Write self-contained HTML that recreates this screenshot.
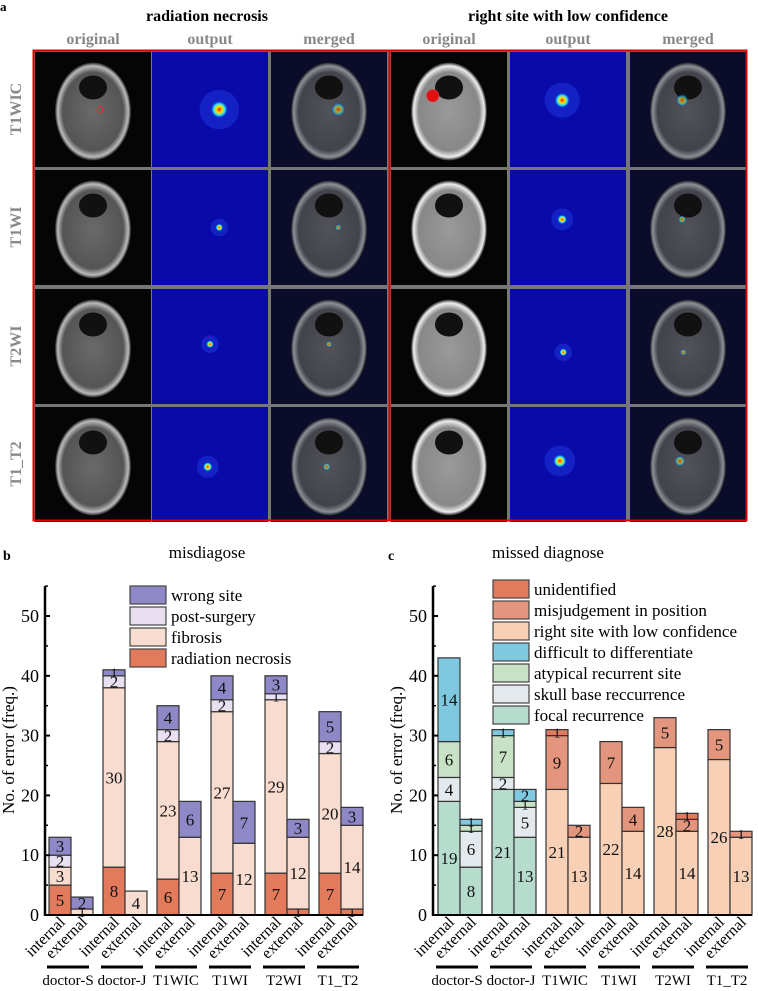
<!DOCTYPE html>
<html><head><meta charset="utf-8"><style>
html,body{margin:0;padding:0;background:#fff;}
body{width:758px;height:991px;position:relative;overflow:hidden;font-family:"Liberation Serif",serif;}
svg{position:absolute;left:0;top:0;font-family:"Liberation Serif",serif;}
</style></head><body>
<svg id="fig" width="758" height="991" viewBox="0 0 758 991" xmlns="http://www.w3.org/2000/svg">
<defs>
<radialGradient id="hot" cx="50%" cy="50%" r="50%"><stop offset="0" stop-color="#ff2000"/><stop offset="0.35" stop-color="#ffe000"/><stop offset="0.65" stop-color="#20e0ff"/><stop offset="1" stop-color="#0010c0" stop-opacity="0"/></radialGradient>
<radialGradient id="brain" cx="50%" cy="50%" r="50%"><stop offset="0" stop-color="#6a6a6a"/><stop offset="0.8" stop-color="#555"/><stop offset="0.93" stop-color="#bbb"/><stop offset="1" stop-color="#222"/></radialGradient>
<radialGradient id="brainB" cx="50%" cy="50%" r="50%"><stop offset="0" stop-color="#9a9a9a"/><stop offset="0.8" stop-color="#888"/><stop offset="0.93" stop-color="#eee"/><stop offset="1" stop-color="#222"/></radialGradient>
</defs>
<g id="panelA"></g>
<g id="chartB"></g>
<g id="chartC"></g>
</svg>
<script>
// ---- chart data ----
const groups = ["doctor-S","doctor-J","T1WIC","T1WI","T2WI","T1_T2"];
const subLabels = ["internal","external"];
const yTicks = [0,10,20,30,40,50];
// chart b series (bottom to top), order: doctor-S int, ext, doctor-J int, ext, ...
const bSeriesNames = ["radiation necrosis","fibrosis","post-surgery","wrong site"];
const bRadiation = [5,0,8,0,6,0,7,0,7,1,7,1];
const bFibrosis  = [3,1,30,4,23,13,27,12,29,12,20,14];
const bPostSurg  = [2,0,2,0,2,0,2,0,1,0,2,0];
const bWrongSite = [3,2,1,0,4,6,4,7,3,3,5,3];
const bColors = ["#e47a5c","#f8dccf","#e8dff0","#8f88c6"];
// chart c series
const cSeriesNames = ["focal recurrence","skull base reccurrence","atypical recurrent site","difficult to differentiate","right site with low confidence","misjudgement in position","unidentified"];
const cFocal     = [19,8,21,13,0,0,0,0,0,0,0,0];
const cSkull     = [4,6,2,5,0,0,0,0,0,0,0,0];
const cAtypical  = [6,1,7,1,0,0,0,0,0,0,0,0];
const cDifficult = [14,1,1,2,0,0,0,0,0,0,0,0];
const cRightSite = [0,0,0,0,21,13,22,14,28,14,26,13];
const cMisjudge  = [0,0,0,0,9,2,7,4,5,2,5,1];
const cUnident   = [0,0,0,0,1,0,0,0,0,1,0,0];
const cColors = ["#b6dccd","#e4e9ed","#c8e2c6","#7ec8e0","#f7d0b6","#e4957d","#e47a5c"];

const NS="http://www.w3.org/2000/svg";
function mk(tag,attrs,parent){const e=document.createElementNS(NS,tag);for(const k in attrs)e.setAttribute(k,attrs[k]);parent.appendChild(e);return e;}
function txt(s,attrs,parent){const e=mk("text",attrs,parent);e.textContent=s;return e;}

// ---- panel a ----
const A=document.getElementById("panelA");
txt("a",{x:0,y:11,"font-size":13,"font-weight":"bold"},A);
txt("radiation necrosis",{x:207,y:21,"font-size":16,"font-weight":"bold","text-anchor":"middle"},A);
txt("right site with low confidence",{x:568,y:21,"font-size":16,"font-weight":"bold","text-anchor":"middle"},A);
const colX=[[35,152,271],[391,510,630]], rowY=[52,170,289,407];
const hdr=["original","output","merged"];
const rows=["T1WIC","T1WI","T2WI","T1_T2"];
const hotL=[[0.58,0.5,9],[0.58,0.5,4],[0.5,0.48,4],[0.48,0.52,5]];
const hotR=[[0.45,0.42,8],[0.45,0.43,5],[0.46,0.55,4],[0.43,0.47,7]];
for(let p=0;p<2;p++){
  for(let c=0;c<3;c++){
    const h=txt(hdr[c],{x:colX[p][c]+58,y:44,"font-size":16,"font-weight":"bold",fill:"#888","text-anchor":"middle"},A);
    
    
  }
  mk("rect",{x:colX[p][0]-2,y:50,width:358,height:471,fill:"#777"},A);
  for(let r=0;r<4;r++){
    for(let c=0;c<3;c++){
      const x=colX[p][c],y=rowY[r],w=116,hh=115;
      const g=mk("g",{},A);
      
      
      if(c===1){
        mk("rect",{x,y,width:w,height:hh,fill:"#0a0aa8"},g);
        const hs=p?hotR[r]:hotL[r];
        mk("circle",{cx:x+w*hs[0],cy:y+hh*hs[1],r:hs[2]*2.2,fill:"#1a30d8",opacity:0.6},g);
        mk("circle",{cx:x+w*hs[0],cy:y+hh*hs[1],r:hs[2],fill:"url(#hot)"},g);
      } else {
        mk("rect",{x,y,width:w,height:hh,fill:c===2?"#0b0b2a":"#050505"},g);
        mk("ellipse",{cx:x+w/2,cy:y+hh/2+2,rx:38,ry:49,fill:(p&&c===0)?"url(#brainB)":"url(#brain)",opacity:c===2?0.75:1},g);
        mk("ellipse",{cx:x+w/2,cy:y+hh/2-22,rx:14,ry:12,fill:"#111"},g);
        if(c===2){const hs=p?hotR[r]:hotL[r];mk("circle",{cx:x+w*hs[0],cy:y+hh*hs[1],r:hs[2]*0.8,fill:"url(#hot)",opacity:0.6},g);}
        if(c===0&&r===0) mk("circle",{cx:x+w*(p?0.36:0.56),cy:y+hh*(p?0.38:0.5),r:p?6:3,fill:p?"#e01010":"none",stroke:"#e03030","stroke-width":1},g);
      }
    }
  }
  mk("rect",{x:colX[p][0]-1.5,y:50.5,width:357,height:470,fill:"none",stroke:"#e00000","stroke-width":2},A);
}
for(let r=0;r<4;r++){
  const t=txt(rows[r],{x:0,y:0,"font-size":16,"font-weight":"bold",fill:"#888","text-anchor":"middle",transform:`translate(21,${rowY[r]+57}) rotate(-90)`},A);
  
  
}

// ---- stacked bar charts ----
function chart(root,opt){
  const G=document.getElementById(root);
  const y0=915, k=5.98;
  const ys=v=>y0-v*k;
  const xs=i=>opt.x0+Math.floor(i/2)*opt.gs+(i%2)*opt.bw;
  txt(opt.letter,{x:opt.lx,y:560,"font-size":14,"font-weight":"bold"},G);
  txt(opt.title,{x:opt.tx,y:558,"font-size":17,"text-anchor":"middle"},G);
  opt.series.forEach((arr,s)=>{
    arr.forEach((v,i)=>{
      if(!v)return;
      let base=0;for(let q=0;q<s;q++)base+=opt.series[q][i];
      const r=mk("rect",{x:xs(i),y:ys(base+v),width:opt.bw,height:v*k,fill:opt.colors[s],stroke:"#333","stroke-width":1.2},G);
      
      
      const fs=v>=2?17:14;
      const l=txt(String(v),{x:xs(i)+opt.bw/2,y:ys(base+v/2)+fs*0.35,"font-size":fs,"text-anchor":"middle",fill:"#111"},G);
      
      
    });
  });
  const ax=mk("g",{},G);
  mk("line",{x1:opt.ax,y1:ys(55),x2:opt.ax,y2:y0+1,stroke:"#000","stroke-width":2.5},ax);
  mk("line",{x1:opt.ax,y1:y0,x2:opt.x0+6*opt.gs-10,y2:y0,stroke:"#000","stroke-width":2},ax);
  yTicks.forEach(t=>{
    mk("line",{x1:opt.ax,y1:ys(t),x2:opt.ax+5,y2:ys(t),stroke:"#000","stroke-width":2},ax);
    mk("line",{x1:opt.ax,y1:ys(t+5),x2:opt.ax+3,y2:ys(t+5),stroke:"#000","stroke-width":1.5},ax);
    txt(String(t),{x:opt.ax-6,y:ys(t)+6,"font-size":18,"text-anchor":"end"},ax);
  });
  const yt=txt("No. of error (freq.)",{x:0,y:0,"font-size":17,"text-anchor":"middle",transform:`translate(${opt.ax-31},750) rotate(-90)`},G);
  
  for(let i=0;i<12;i++){
    const cx=xs(i)+opt.bw/2+6;
    const t=txt(subLabels[i%2],{x:0,y:0,"font-size":16,"text-anchor":"end",transform:`translate(${cx},${923}) rotate(-45)`},G);
    
  }
  groups.forEach((g,j)=>{
    const gx=opt.x0+j*opt.gs;
    mk("line",{x1:gx-2,y1:967,x2:gx+2*opt.bw-4,y2:967,stroke:"#000","stroke-width":3},G);
    const t=txt(g,{x:gx+opt.bw-3,y:985,"font-size":15,"text-anchor":"middle"},G);
    
  });
  const L=mk("g",{},G);
  const n=opt.names.length;
  for(let q=0;q<n;q++){
    const s=n-1-q, y=opt.ly+q*21;
    const e=mk("g",{},L);
    mk("rect",{x:opt.lbx,y:y,width:36,height:18,fill:opt.colors[s],stroke:"#444","stroke-width":1.2},e);
    txt(opt.names[s],{x:opt.lbx+41,y:y+15,"font-size":17},e);
  }
}
chart("chartB",{letter:"b",lx:3,title:"misdiagose",tx:207,x0:49,gs:54,bw:22,ax:45,lbx:130,ly:586,
  series:[bRadiation,bFibrosis,bPostSurg,bWrongSite],colors:bColors,names:bSeriesNames});
chart("chartC",{letter:"c",lx:388,title:"missed diagnose",tx:548,x0:438,gs:54,bw:22,ax:433,lbx:493,ly:580,
  series:[cFocal,cSkull,cAtypical,cDifficult,cRightSite,cMisjudge,cUnident],colors:cColors,names:cSeriesNames});
</script>
</body></html>
